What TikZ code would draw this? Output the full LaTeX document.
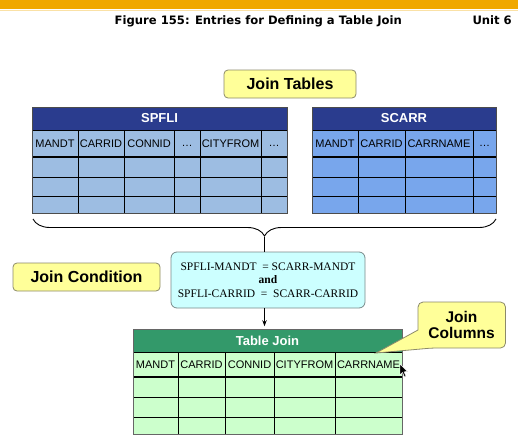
\documentclass[tikz,border=0pt]{standalone}
\usepackage{fontspec}
\setmainfont{Liberation Sans}
\newfontfamily\condfont{Liberation Serif}
\newfontfamily\headfont{DejaVu Sans}
\usetikzlibrary{decorations.pathreplacing,arrows.meta,calc}
\definecolor{barorange}{HTML}{F0A800}
\definecolor{spflititle}{HTML}{2A3C8E}
\definecolor{spflicell}{HTML}{9DBDE2}
\definecolor{scarrcell}{HTML}{78A6EC}
\definecolor{joingreen}{HTML}{33996A}
\definecolor{joincell}{HTML}{CCFFCC}
\definecolor{noteyellow}{HTML}{FFFF99}
\definecolor{noteborder}{HTML}{8C8A6A}
\definecolor{condcyan}{HTML}{CCFFFF}
\definecolor{condborder}{HTML}{7A8A8A}
\tikzset{
  note/.style={draw=noteborder, fill=noteyellow, rounded corners=4pt, line width=0.8pt, font=\bfseries\fontsize{16}{18}\selectfont, inner sep=0pt},
  titletext/.style={text=white, font=\bfseries\fontsize{13}{15}\selectfont},
  coltext/.style={font=\fontsize{11}{12}\selectfont, inner sep=0pt},
  grid/.style={draw=black, line width=0.7pt},
  thick sep/.style={draw=black, line width=1.8pt},
  headtext/.style={anchor=base east, font=\headfont\bfseries\fontsize{11.6}{13}\selectfont, inner sep=0pt},
}
\begin{document}
\begin{tikzpicture}[x=1pt,y=-1pt]
\useasboundingbox (0,0) rectangle (518,436);
\fill[white] (0,0) rectangle (518,436);
% top bar
\fill[barorange] (0,0) rectangle (518,9.5);
\draw[barorange!35, line width=1pt] (0,11) -- (518,11);
\node[headtext] (figtitle) at (402,25) {Figure 155: Entries for Defining a Table Join};
\node[headtext] (unit) at (512,25) {Unit 6};

% Join Tables label
\node[note, minimum width=132pt, minimum height=28pt] (jtables) at (290,84) {Join Tables};

% ---------- SPFLI ----------
\fill[spflicell] (32,130) rectangle (287,213);
\fill[spflititle] (32,107) rectangle (287,130);
\node[titletext] (spflititle) at (159.5,118.5) {SPFLI};
\foreach \x in {78,124,174,200,261} \draw[grid] (\x,130) -- (\x,213);
\foreach \y in {177,196} \draw[grid] (32,\y) -- (287,\y);
\draw[grid] (32,130) -- (287,130);
\draw[thick sep] (32,157) -- (287,157);
\draw[draw=black!70, line width=0.6pt] (32,107) rectangle (287,213);
\node[coltext] at (55,143.5) {MANDT};
\node[coltext] at (101,143.5) {CARRID};
\node[coltext] at (149,143.5) {CONNID};
\node[coltext] at (187,146) {\dots};
\node[coltext] at (230.5,143.5) {CITYFROM};
\node[coltext] at (274,146) {\dots};

% ---------- SCARR ----------
\fill[scarrcell] (312,130) rectangle (496,213);
\fill[spflititle] (312,107) rectangle (496,130);
\node[titletext] (scarrtitle) at (404,118.5) {SCARR};
\foreach \x in {358,405,473} \draw[grid] (\x,130) -- (\x,213);
\foreach \y in {177,196} \draw[grid] (312,\y) -- (496,\y);
\draw[grid] (312,130) -- (496,130);
\draw[thick sep] (312,157) -- (496,157);
\draw[draw=black!70, line width=0.6pt] (312,107) rectangle (496,213);
\node[coltext] at (335,143.5) {MANDT};
\node[coltext] at (381.5,143.5) {CARRID};
\node[coltext] at (439,143.5) {CARRNAME};
\node[coltext] at (484.5,146) {\dots};

% brace
\coordinate (braceL) at (33,219);
\coordinate (braceR) at (496,219);
\coordinate (bracetip) at (264.5,237);
\draw[line width=0.9pt, decorate, decoration={brace, mirror, amplitude=17pt, aspect=0.5}] (braceL) -- (braceR);

% Join condition
\node[draw=condborder, fill=condcyan, rounded corners=6pt, line width=0.8pt, minimum width=194pt, minimum height=56pt, inner sep=0pt,
      font=\condfont\fontsize{11.5}{14}\selectfont, align=center] (cond) at (268,280)
  {SPFLI-MANDT\ \ = SCARR-MANDT\\[-0.5pt] \textbf{and}\\[-0.5pt] SPFLI-CARRID\ \ = \ SCARR-CARRID};
\node[note, minimum width=147pt, minimum height=28pt] (jcond) at (86.5,277) {Join Condition};

\draw[line width=0.9pt] (bracetip) -- (bracetip |- cond.north);

% ---------- Table Join ----------
\fill[joincell] (133,352) rectangle (402,434);
\fill[joingreen] (133,329) rectangle (402,352);
\node[titletext] (jointitle) at (267.5,340.5) {Table Join};
\foreach \x in {178,225,274,335} \draw[grid] (\x,352) -- (\x,434);
\foreach \y in {397,417} \draw[grid] (133,\y) -- (402,\y);
\draw[grid] (133,352) -- (402,352);
\draw[thick sep] (133,377) -- (402,377);
\draw[draw=black!60, line width=0.6pt] (133,329) rectangle (402,434);
\node[coltext] (cmandt) at (155.5,364.5) {MANDT};
\node[coltext] (ccarrid) at (201.5,364.5) {CARRID};
\node[coltext] (cconnid) at (249.5,364.5) {CONNID};
\node[coltext] (ccity) at (304.5,364.5) {CITYFROM};
\node[coltext] (ccarrname) at (368.5,364.5) {CARRNAME};

\draw[line width=0.9pt, -{Stealth[length=6pt,width=4.5pt]}] (cond.south -| bracetip) -- ($(jointitle.north -| bracetip)+(0,-6)$) coordinate (arrowend);

% Join Columns callout
\coordinate (ptip) at (376,353);
\draw[draw=noteborder, fill=noteyellow, line width=0.8pt, rounded corners=5pt]
  (418,302) -- (505.5,302) -- (505.5,348) -- (432,348) [sharp corners] -- (ptip) -- (418,330) [rounded corners=5pt] -- cycle;
\node[font=\bfseries\fontsize{15.5}{18}\selectfont, align=center, inner sep=0pt] (jcols) at (461.5,325) {Join\\[-2pt]Columns};

% mouse cursor
\draw[fill=black, draw=white, line width=0.4pt] (400,364) -- (400,375) -- (402.5,372.5) -- (404.5,377) -- (406,376.3) -- (404,371.8) -- (407.5,371.5) -- cycle;
\end{tikzpicture}
\end{document}
